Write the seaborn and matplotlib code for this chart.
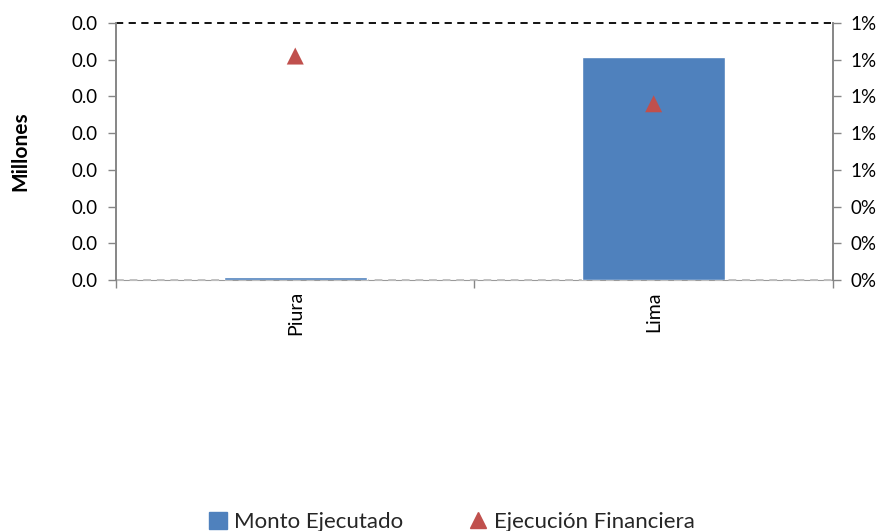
import numpy as np
import pandas as pd
import matplotlib
matplotlib.use("Agg")
import matplotlib.pyplot as plt
from matplotlib.ticker import FuncFormatter, FixedLocator
import seaborn as sns

# Data (monto en millones, ejecución como fracción)
regiones = ["Piura", "Lima"]
monto_ejecutado = [0.00004, 0.00304]
ejecucion_financiera = [0.0122, 0.0096]

df = pd.DataFrame({
    "region": regiones,
    "monto": monto_ejecutado,
    "ejec": ejecucion_financiera,
})

sns.set_style("white")
plt.rcParams["font.family"] = ["Lato", "DejaVu Sans"]

fig = plt.figure(figsize=(8.86, 5.31), dpi=100)
ax = fig.add_axes([0.131, 0.4727, 0.809, 0.484])

sns.barplot(data=df, x="region", y="monto", color="#4F81BD", width=0.4,
            saturation=1, ax=ax)

ax2 = ax.twinx()
sns.scatterplot(data=df, x="region", y="ejec", marker="^", color="#C0504D",
                s=150, edgecolor="none", ax=ax2, legend=False, zorder=5)

ax.set_xlim(-0.5, 1.5)
ax.set_ylim(0, 0.0035)
ax.set_yticks(np.arange(0, 0.0036, 0.0005))
ax.yaxis.set_major_formatter(FuncFormatter(lambda v, p: f"{v:.1f}"))
ax2.set_ylim(0, 0.014)
ax2.set_yticks(np.arange(0, 0.0141, 0.002))
ax2.yaxis.set_major_formatter(FuncFormatter(lambda v, p: f"{v*100:.0f}%"))

for a in (ax, ax2):
    for s in a.spines.values():
        s.set_color("#868686")
        s.set_linewidth(1.2)
    a.spines["top"].set_visible(False)
    a.spines["bottom"].set_visible(False)
    a.set_ylabel("")
ax.tick_params(axis="y", left=True, direction="out", length=6, width=1,
               color="#868686", labelsize=13.5, labelcolor="black", pad=7)
ax2.tick_params(axis="y", right=True, direction="out", length=6, width=1,
                color="#868686", labelsize=13.5, labelcolor="black", pad=7)

ax.set_xlabel("")
ax.set_ylabel("Millones", fontsize=15, fontweight="bold", color="black", labelpad=30)
ax.tick_params(axis="x", which="major", bottom=False, length=0, labelsize=14,
               labelcolor="black", rotation=90, pad=8)
ax.xaxis.set_minor_locator(FixedLocator([-0.5, 0.5, 1.5]))
ax.tick_params(axis="x", which="minor", bottom=True, direction="out", length=6,
               width=1, color="#868686")

# top dashed border and bottom dashed baseline
ax.axhline(0.0035, color="black", linestyle=(0, (4, 3)), linewidth=1.3, clip_on=False)
ax.axhline(0, color="#9a9a9a", linewidth=0.8, zorder=0.4, clip_on=False)
ax.axhline(0, color="#c0c0c0", linestyle=(0, (4, 3)), linewidth=1.4, zorder=0.5,
           clip_on=False)

h1 = plt.Rectangle((0, 0), 1, 1, color="#4F81BD")
h2 = plt.Line2D([], [], marker="^", color="#C0504D", linestyle="none", markersize=11)
fig.legend([h1, h2], ["Monto Ejecutado", "Ejecución Financiera"],
           loc="lower center", bbox_to_anchor=(0.51, -0.04), ncol=2, frameon=False,
           fontsize=16, handlelength=0.8, handleheight=0.8, handletextpad=0.3,
           columnspacing=3.0)

fig.savefig("out.png", dpi=100)
